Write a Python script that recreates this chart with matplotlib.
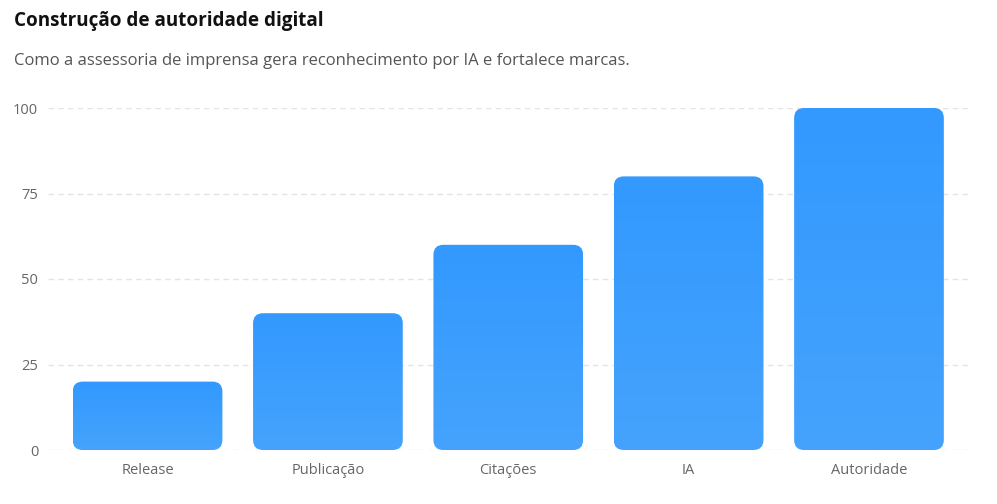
import numpy as np
import matplotlib.pyplot as plt
from matplotlib.patches import FancyBboxPatch
from matplotlib.colors import LinearSegmentedColormap

plt.rcParams['font.family'] = ['Open Sans', 'DejaVu Sans']

categories = ["Release", "Publicação", "Citações", "IA", "Autoridade"]
values = [20, 40, 60, 80, 100]
yticks = [0, 25, 50, 75, 100]

title = "Construção de autoridade digital"
subtitle = "Como a assessoria de imprensa gera reconhecimento por IA e fortalece marcas."

W, H = 997, 504
fig = plt.figure(figsize=(W / 100, H / 100), dpi=100)

# axes placed in pixel terms
left, right, bottom, top = 48, 968, 504 - 450, 504 - 108
ax = fig.add_axes([left / W, bottom / H, (right - left) / W, (top - bottom) / H])
ax.set_xlim(-0.552, 4.549)
ax.set_ylim(0, 100)

for s in ax.spines.values():
    s.set_visible(False)
ax.set_yticks(yticks)
ax.set_xticks(range(len(categories)))
ax.set_xticklabels(categories)
ax.tick_params(axis='both', length=0, colors='#666666', labelsize=10.5)
ax.tick_params(axis='y', pad=7)
ax.tick_params(axis='x', pad=9)
ax.grid(axis='y', color='#e4e4e4', linestyle=(0, (4, 3)), linewidth=1)
ax.set_axisbelow(True)

# rounded bars with a light vertical gradient
bar_w = 0.83
px_x = (right - left) / (4.549 + 0.552)
px_y = (top - bottom) / 100.0
radius_px = 10
rx = radius_px / px_x
aspect = (radius_px / px_y) / rx
cmap = LinearSegmentedColormap.from_list("bar", ["#45a3fc", "#3399ff"])
grad = np.linspace(0, 1, 256).reshape(-1, 1)

for i, v in enumerate(values):
    x0 = i - bar_w / 2
    patch = FancyBboxPatch((x0, 0), bar_w, v,
                           boxstyle=f"round,pad=0,rounding_size={rx}",
                           mutation_aspect=aspect,
                           facecolor='none', edgecolor='none', zorder=2)
    ax.add_patch(patch)
    im = ax.imshow(grad, extent=(x0, x0 + bar_w, 0, v), origin='lower',
                   cmap=cmap, aspect='auto', zorder=2)
    im.set_clip_path(patch)

ax.set_xlim(-0.552, 4.549)
ax.set_ylim(0, 100)

fig.text(14 / W, 1 - 21 / H, title, fontsize=13.6, fontweight='bold',
         color='#111111', va='center', ha='left')
fig.text(14 / W, 1 - 61 / H, subtitle, fontsize=12, color='#555555',
         va='center', ha='left')

fig.savefig("out.png", dpi=100, facecolor='white')
